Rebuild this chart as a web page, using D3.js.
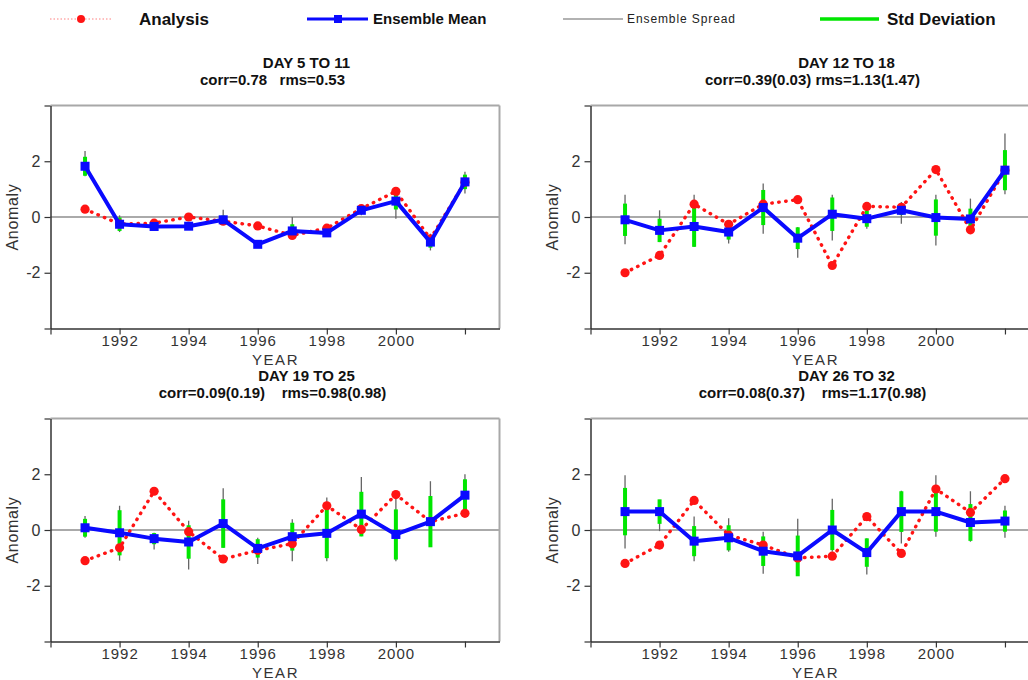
<!DOCTYPE html>
<html>
<head>
<meta charset="utf-8">
<script src="https://cdn.jsdelivr.net/npm/d3@7"></script>
<style>
  html, body { margin: 0; padding: 0; background: #fff; }
  svg { display: block; }
  text { font-family: "Liberation Sans", Arial, Helvetica, sans-serif; white-space: pre; }
</style>
</head>
<body>
<svg id="chart" width="1028" height="680"></svg>
<script>
// Forecast years
const years = [1991, 1992, 1993, 1994, 1995, 1996, 1997, 1998, 1999, 2000, 2001, 2002];
const xTickValues = [1990, 1992, 1994, 1996, 1998, 2000, 2002];
const xTickLabels = ["", "1992", "1994", "1996", "1998", "2000", ""];
const yTickValues = [-4, -2, 0, 2, 4];
const yTickLabels = ["", "-2", "0", "2", ""];

// Lead-time windows and their scores
const windowTitles = ["DAY 5 TO 11", "DAY 12 TO 18", "DAY 19 TO 25", "DAY 26 TO 32"];
const windowStats = [
  "corr=0.78   rms=0.53",
  "corr=0.39(0.03) rms=1.13(1.47)",
  "corr=0.09(0.19)    rms=0.98(0.98)",
  "corr=0.08(0.37)    rms=1.17(0.98)"
];

// DAY 5 TO 11
const analysisA  = [0.28, -0.25, -0.22, 0.00, -0.15, -0.32, -0.66, -0.40, 0.30, 0.92, -0.78, 1.25];
const meanA      = [1.82, -0.26, -0.34, -0.33, -0.10, -0.98, -0.50, -0.57, 0.24, 0.57, -0.90, 1.26];
const spreadLoA  = [1.46, -0.54, -0.45, -0.45, -0.24, -1.10, -0.72, -0.70, 0.06, -0.06, -1.20, 0.84];
const spreadHiA  = [2.37, 0.06, -0.20, -0.20, 0.26, -0.85, 0.00, -0.45, 0.42, 0.78, -0.60, 1.62];
const stdA       = [0.34, 0.24, 0.10, 0.10, 0.15, 0.10, 0.24, 0.10, 0.12, 0.30, 0.20, 0.26];

// DAY 12 TO 18
const analysisB  = [-2.00, -1.38, 0.46, -0.26, 0.46, 0.62, -1.74, 0.38, 0.35, 1.70, -0.46, 1.68];
const meanB      = [-0.10, -0.48, -0.34, -0.54, 0.34, -0.76, 0.10, -0.06, 0.24, -0.02, -0.07, 1.68];
const spreadLoB  = [-0.98, -0.90, -1.08, -0.95, -0.60, -1.46, -0.84, -0.42, -0.24, -1.02, -0.36, 0.82];
const spreadHiB  = [0.80, 0.24, 0.80, -0.25, 1.20, -0.36, 0.80, 0.38, 0.54, 0.80, 0.66, 3.00];
const stdB       = [0.58, 0.42, 0.73, 0.27, 0.63, 0.39, 0.60, 0.29, 0.17, 0.65, 0.37, 0.72];

// DAY 19 TO 25
const analysisC  = [-1.10, -0.64, 1.39, -0.06, -1.04, -0.73, -0.49, 0.87, 0.02, 1.27, 0.30, 0.60];
const meanC      = [0.08, -0.10, -0.31, -0.43, 0.23, -0.66, -0.24, -0.12, 0.57, -0.16, 0.30, 1.25];
const spreadLoC  = [-0.28, -1.10, -0.70, -1.42, -0.64, -1.22, -1.12, -1.12, -0.22, -1.12, -0.61, 0.69];
const spreadHiC  = [0.50, 0.87, -0.10, 0.33, 1.50, -0.28, 0.39, 1.17, 1.90, 1.17, 1.75, 2.00];
const stdC       = [0.32, 0.81, 0.20, 0.60, 0.87, 0.33, 0.50, 0.89, 0.80, 0.90, 0.92, 0.57];

// DAY 26 TO 32
const analysisD  = [-1.20, -0.54, 1.06, -0.18, -0.54, -1.00, -0.94, 0.48, -0.84, 1.47, 0.63, 1.84];
const meanD      = [0.66, 0.66, -0.40, -0.28, -0.76, -0.93, 0.00, -0.81, 0.66, 0.66, 0.27, 0.32];
const spreadLoD  = [-0.66, -0.04, -1.12, -0.78, -1.57, -1.50, -0.78, -1.60, -0.48, -0.24, -0.42, -0.28];
const spreadHiD  = [1.96, 1.08, 0.48, 0.42, -0.06, 0.40, 1.12, -0.30, 1.41, 1.96, 1.39, 0.87];
const stdD       = [0.85, 0.44, 0.54, 0.45, 0.53, 0.73, 0.72, 0.51, 0.73, 0.72, 0.66, 0.38];

const series = [
  { analysis: analysisA, mean: meanA, lo: spreadLoA, hi: spreadHiA, std: stdA },
  { analysis: analysisB, mean: meanB, lo: spreadLoB, hi: spreadHiB, std: stdB },
  { analysis: analysisC, mean: meanC, lo: spreadLoC, hi: spreadHiC, std: stdC },
  { analysis: analysisD, mean: meanD, lo: spreadLoD, hi: spreadHiD, std: stdD }
];

const RED = "#ff1414", BLUE = "#0a0aff", GREEN = "#00e600", GRAY = "#666";

const svg = d3.select("#chart");

// panel placement: left edge and top edge of each plotting frame
const frames = [
  { left: 50.5, top: 105.5 },
  { left: 590.5, top: 105.5 },
  { left: 50.5, top: 418.5 },
  { left: 590.5, top: 418.5 }
];
const plotW = 449, plotH = 223;

frames.forEach((f, i) => {
  const s = series[i];
  const x = d3.scaleLinear().domain([1990, 2003]).range([f.left, f.left + plotW]);
  const y = d3.scaleLinear().domain([-4, 4]).range([f.top + plotH, f.top]);
  const g = svg.append("g");

  // frame: light top and right edges
  g.append("line").attr("x1", x(1990)).attr("x2", x(2003)).attr("y1", y(4)).attr("y2", y(4))
    .attr("stroke", "#a8a8a8").attr("stroke-width", 2);
  g.append("line").attr("x1", x(2003)).attr("x2", x(2003)).attr("y1", y(4)).attr("y2", y(-4))
    .attr("stroke", "#a8a8a8").attr("stroke-width", 2);

  // zero reference line
  g.append("line").attr("x1", x(1990)).attr("x2", x(2003)).attr("y1", y(0)).attr("y2", y(0))
    .attr("stroke", "#aaa").attr("stroke-width", 2);

  // axes
  const xAxis = d3.axisBottom(x).tickValues(xTickValues)
    .tickFormat((d, k) => xTickLabels[k]).tickSize(6).tickSizeOuter(0).tickPadding(1);
  const gx = g.append("g").attr("transform", `translate(0,${y(-4)})`).call(xAxis);
  const yAxis = d3.axisLeft(y).tickValues(yTickValues)
    .tickFormat((d, k) => yTickLabels[k]).tickSize(6).tickSizeOuter(0).tickPadding(4);
  const gy = g.append("g").attr("transform", `translate(${x(1990)},0)`).call(yAxis);
  [gx, gy].forEach(a => {
    a.select(".domain").attr("stroke", "#333").attr("stroke-width", 1.5);
    a.selectAll(".tick line").attr("stroke", "#333").attr("stroke-width", 1.2);
    a.selectAll(".tick text").attr("fill", "#333").attr("font-size", 15)
      .attr("font-family", "'Liberation Sans', Arial, sans-serif");
  });
  gx.selectAll(".tick text").attr("letter-spacing", 1);
  gy.selectAll(".tick text").attr("font-size", 16);

  // axis titles
  g.append("text").attr("x", x(1990) + 225).attr("y", y(-4) + 36)
    .attr("text-anchor", "middle").attr("font-size", 15).attr("letter-spacing", 1.6)
    .attr("fill", "#333").text("YEAR");
  g.append("text")
    .attr("transform", `translate(${x(1990) - 33},${y(0)}) rotate(-90)`)
    .attr("text-anchor", "middle").attr("font-size", 16).attr("letter-spacing", 0.7)
    .attr("fill", "#333").text("Anomaly");

  // titles
  g.append("text").attr("x", x(1990) + 256).attr("y", y(4) - 38)
    .attr("text-anchor", "middle").attr("font-size", 15).attr("font-weight", "bold")
    .attr("fill", "#111").text(windowTitles[i]);
  g.append("text").attr("x", x(1990) + 222).attr("y", y(4) - 21)
    .attr("text-anchor", "middle").attr("font-size", 15).attr("font-weight", "bold")
    .attr("fill", "#111").text(windowStats[i]);

  const rows = years.map((yr, k) => ({
    yr, a: s.analysis[k], m: s.mean[k], lo: s.lo[k], hi: s.hi[k], sd: s.std[k]
  }));

  // ensemble spread (min to max)
  g.selectAll(".spread").data(rows).join("line").attr("class", "spread")
    .attr("x1", d => x(d.yr)).attr("x2", d => x(d.yr))
    .attr("y1", d => y(d.lo)).attr("y2", d => y(d.hi))
    .attr("stroke", GRAY).attr("stroke-width", 1.3);

  // ensemble mean +/- one standard deviation
  g.selectAll(".std").data(rows).join("line").attr("class", "std")
    .attr("x1", d => x(d.yr)).attr("x2", d => x(d.yr))
    .attr("y1", d => y(d.m - d.sd)).attr("y2", d => y(d.m + d.sd))
    .attr("stroke", GREEN).attr("stroke-width", 4);

  // analysis: dotted red line with round markers
  const line = d3.line().x(d => x(d.yr));
  g.append("path").datum(rows)
    .attr("d", line.y(d => y(d.a)))
    .attr("fill", "none").attr("stroke", RED).attr("stroke-width", 3.4)
    .attr("stroke-linecap", "round").attr("stroke-dasharray", "0.5,6.5");
  g.selectAll(".adot").data(rows).join("circle").attr("class", "adot")
    .attr("cx", d => x(d.yr)).attr("cy", d => y(d.a)).attr("r", 4.6).attr("fill", RED);

  // ensemble mean: solid blue line with square markers
  g.append("path").datum(rows)
    .attr("d", d3.line().x(d => x(d.yr)).y(d => y(d.m)))
    .attr("fill", "none").attr("stroke", BLUE).attr("stroke-width", 4)
    .attr("stroke-linejoin", "round");
  g.selectAll(".msq").data(rows).join("rect").attr("class", "msq")
    .attr("x", d => x(d.yr) - 4.5).attr("y", d => y(d.m) - 4.5)
    .attr("width", 9).attr("height", 9).attr("fill", BLUE);
});

// legend
const lg = svg.append("g");
const ly = 19;
lg.append("line").attr("x1", 50).attr("x2", 112).attr("y1", ly).attr("y2", ly)
  .attr("stroke", "#ff8080").attr("stroke-width", 1.2).attr("stroke-dasharray", "1.5,2");
lg.append("circle").attr("cx", 81).attr("cy", ly).attr("r", 4).attr("fill", RED);
lg.append("text").attr("x", 139).attr("y", ly + 6).attr("font-size", 17)
  .attr("font-weight", "bold").attr("fill", "#111").text("Analysis");

lg.append("line").attr("x1", 307).attr("x2", 368).attr("y1", ly).attr("y2", ly)
  .attr("stroke", BLUE).attr("stroke-width", 3);
lg.append("rect").attr("x", 334).attr("y", ly - 4).attr("width", 8).attr("height", 8).attr("fill", BLUE);
lg.append("text").attr("x", 373).attr("y", ly + 5).attr("font-size", 15)
  .attr("font-weight", "bold").attr("fill", "#111").text("Ensemble Mean");

lg.append("line").attr("x1", 563).attr("x2", 623).attr("y1", ly).attr("y2", ly)
  .attr("stroke", "#999").attr("stroke-width", 1.5);
lg.append("text").attr("x", 627).attr("y", ly + 4).attr("font-size", 12)
  .attr("letter-spacing", 0.9).attr("fill", "#222").text("Ensemble Spread");

lg.append("line").attr("x1", 820).attr("x2", 879).attr("y1", ly).attr("y2", ly)
  .attr("stroke", GREEN).attr("stroke-width", 3.5);
lg.append("text").attr("x", 887).attr("y", ly + 6).attr("font-size", 17)
  .attr("font-weight", "bold").attr("fill", "#111").text("Std Deviation");
</script>
</body>
</html>
